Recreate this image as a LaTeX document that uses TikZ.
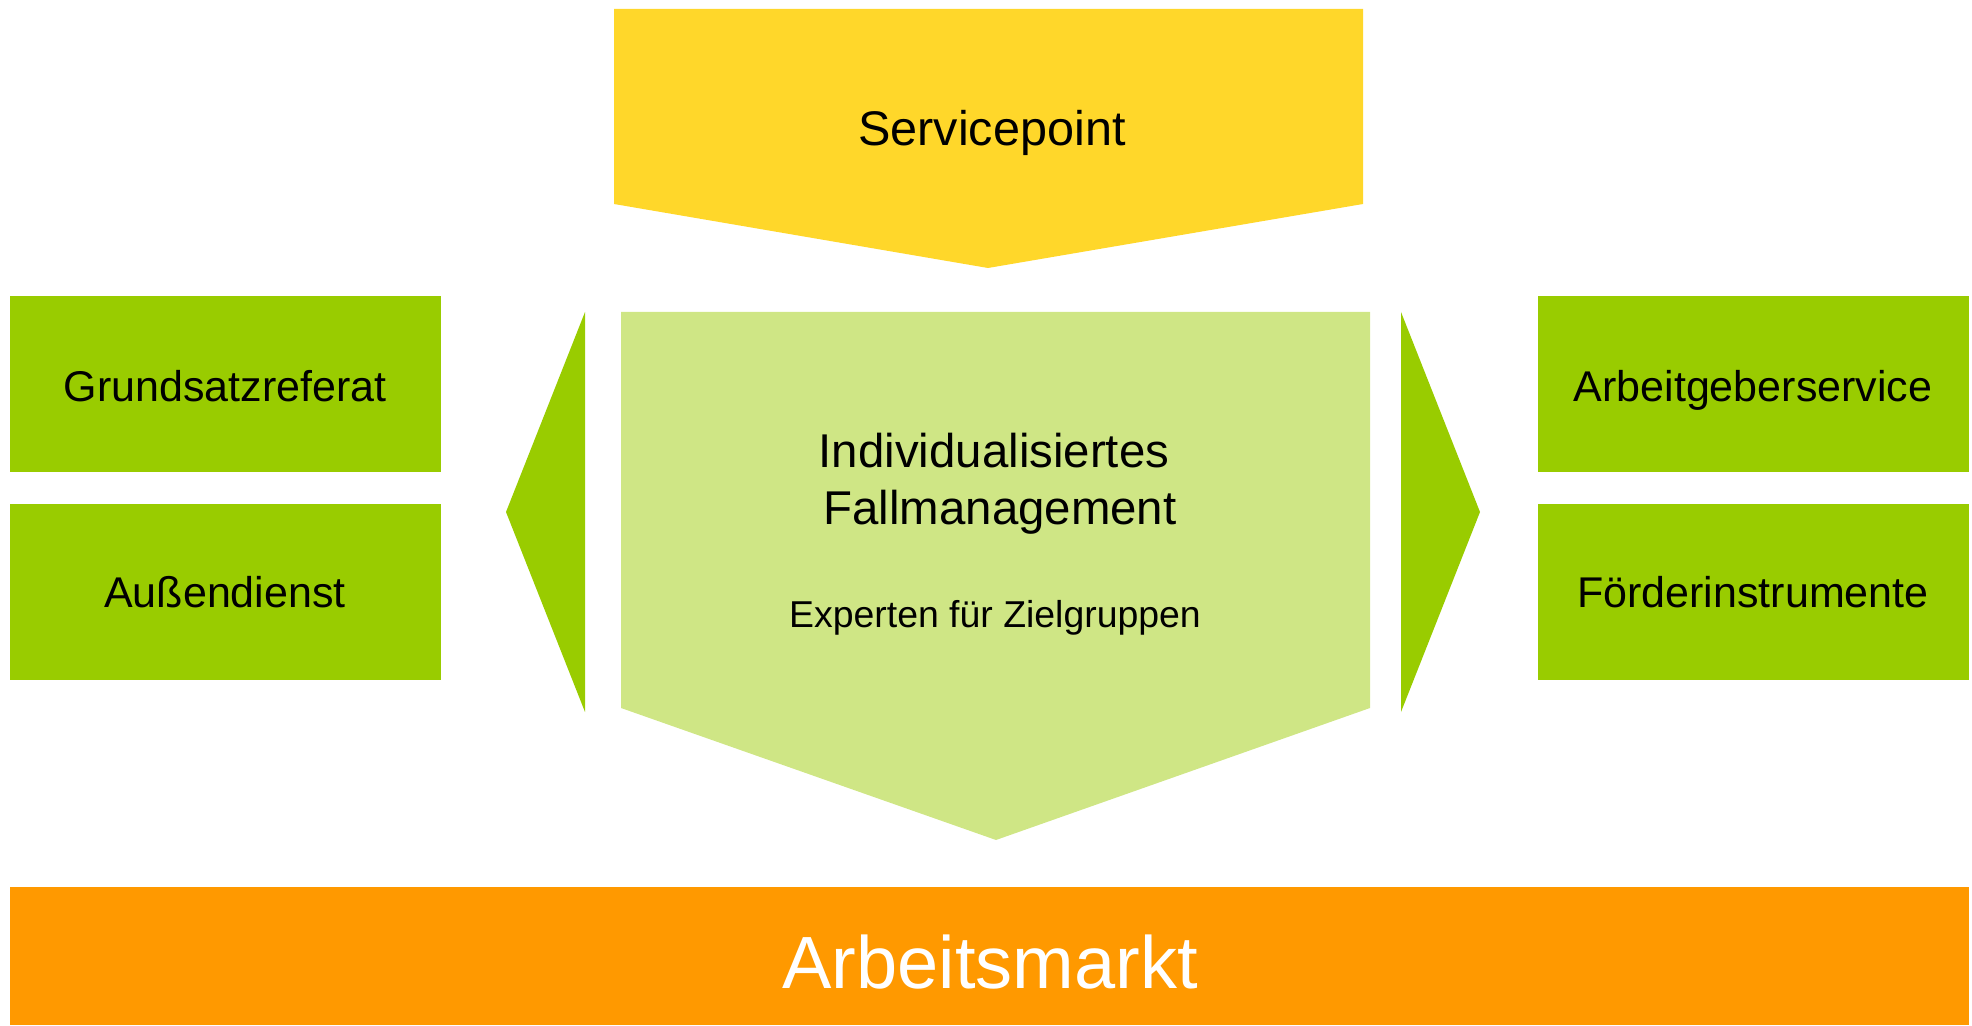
\documentclass[tikz,border=0pt]{standalone}
\usepackage{fontspec}
\setmainfont{Liberation Sans}
\definecolor{cyellow}{RGB}{255,215,42}
\definecolor{cgreen}{RGB}{153,204,0}
\definecolor{clight}{RGB}{207,230,133}
\definecolor{corange}{RGB}{255,153,0}
\begin{document}
\begin{tikzpicture}[x=0.5pt,y=-0.5pt,
  lbl/.style={inner sep=0pt,anchor=base,text=black},
  boxlbl/.style={lbl,font=\fontsize{21.5pt}{26pt}\selectfont}]
\useasboundingbox (0,0) rectangle (1972,1026);
% shapes
\fill[cyellow] (614,9) -- (1363,9) -- (1363,204) -- (988,268) -- (614,204) -- cycle;
\fill[clight] (621,312) -- (1370,312) -- (1370,708) -- (996,840) -- (621,708) -- cycle;
\fill[cgreen] (585,312) -- (585,712) -- (506,512) -- cycle;
\fill[cgreen] (1401,312) -- (1401,712) -- (1480,512) -- cycle;
\fill[cgreen] (10,296) rectangle (441,472);
\fill[cgreen] (10,504) rectangle (441,680);
\fill[cgreen] (1538,296) rectangle (1969,472);
\fill[cgreen] (1538,504) rectangle (1969,680);
\fill[corange] (10,887) rectangle (1969,1025);
% labels
\node[lbl,font=\fontsize{24.3pt}{29pt}\selectfont] (sp) at (992,146) {Servicepoint};
\node[boxlbl] (gr) at (225,402) {Grundsatzreferat};
\node[boxlbl] (ad) at (225,608) {Außendienst};
\node[boxlbl] (ag) at (1753,402) {Arbeitgeberservice};
\node[boxlbl] (fi) at (1753,608) {Förderinstrumente};
\node[lbl,font=\fontsize{23.7pt}{28pt}\selectfont] (ind) at (994,468) {Individualisiertes};
\node[lbl,font=\fontsize{23.7pt}{28pt}\selectfont] (fm) at (1000,525) {Fallmanagement};
\node[lbl,font=\fontsize{18.7pt}{22pt}\selectfont] (ex) at (995,628) {Experten für Zielgruppen};
\node[lbl,text=white,font=\fontsize{37pt}{44pt}\selectfont] (am) at (990,988) {Arbeitsmarkt};
\end{tikzpicture}
\end{document}
